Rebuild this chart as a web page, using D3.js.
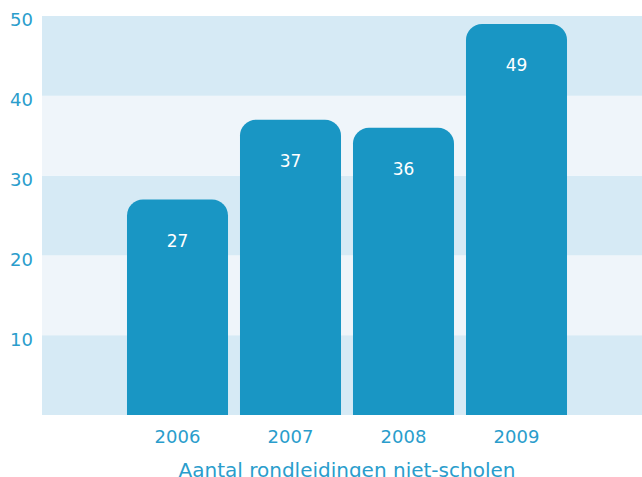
<!DOCTYPE html>
<html>
<head>
<meta charset="utf-8">
<script src="https://cdn.jsdelivr.net/npm/d3@7"></script>
<style>
  html, body { margin: 0; padding: 0; background: #ffffff; }
  svg { display: block; font-family: "DejaVu Sans", sans-serif; }
</style>
</head>
<body>
<div id="chart"></div>
<script>
// Aantal rondleidingen niet-scholen, 2006-2009
const years = ["2006", "2007", "2008", "2009"];
const tours = [27, 37, 36, 49];
const yTicks = [10, 20, 30, 40, 50];
const chartTitle = "Aantal rondleidingen niet-scholen";

const width = 642;
const height = 477;
const plot = {left: 42, right: 642, top: 16, bottom: 415};

const barColor = "#1996c4";
const textColor = "#2a9dcc";
const bandDark = "#d6eaf5";
const bandLight = "#eff5fa";

const svg = d3.select("#chart")
    .append("svg")
    .attr("width", width)
    .attr("height", height);

const yScale = d3.scaleLinear()
    .domain([0, 50])
    .range([plot.bottom, plot.top]);

const xScale = d3.scaleBand()
    .domain(years)
    .range([121, 573])
    .paddingInner(0.106)
    .paddingOuter(0.053);

// alternating background bands, one per 10 units
const bandStarts = d3.range(0, 50, 10);
svg.append("g")
    .selectAll("rect")
    .data(bandStarts)
    .enter()
    .append("rect")
    .attr("x", plot.left)
    .attr("width", plot.right - plot.left)
    .attr("y", d => yScale(d + 10))
    .attr("height", d => yScale(d) - yScale(d + 10))
    .attr("fill", (d, i) => i % 2 === 0 ? bandDark : bandLight);

// bar with rounded top corners only
function topRounded(x, y, w, h, r) {
    return `M${x},${y + h}` +
        `V${y + r}` +
        `A${r},${r} 0 0 1 ${x + r},${y}` +
        `H${x + w - r}` +
        `A${r},${r} 0 0 1 ${x + w},${y + r}` +
        `V${y + h}Z`;
}

const data = years.map((y, i) => ({year: y, value: tours[i]}));

svg.append("g")
    .selectAll("path")
    .data(data)
    .enter()
    .append("path")
    .attr("fill", barColor)
    .attr("d", d => topRounded(
        xScale(d.year),
        yScale(d.value),
        xScale.bandwidth(),
        yScale(0) - yScale(d.value),
        16));

// value labels inside bars
svg.append("g")
    .selectAll("text")
    .data(data)
    .enter()
    .append("text")
    .attr("x", d => xScale(d.year) + xScale.bandwidth() / 2)
    .attr("y", d => yScale(d.value) + 47)
    .attr("text-anchor", "middle")
    .attr("fill", "#ffffff")
    .style("font-size", "17px")
    .text(d => d.value);

// y axis
const yAxis = svg.append("g")
    .attr("transform", `translate(${plot.left},0)`)
    .call(d3.axisLeft(yScale).tickValues(yTicks).tickSize(0).tickPadding(9));
yAxis.select(".domain").remove();
yAxis.selectAll("text")
    .attr("fill", textColor)
    .attr("dy", "0.55em")
    .style("font-size", "18px")
    .style("font-family", "DejaVu Sans, sans-serif");

// x axis
const xAxis = svg.append("g")
    .attr("transform", `translate(0,${plot.bottom})`)
    .call(d3.axisBottom(xScale).tickSize(0));
xAxis.select(".domain").remove();
xAxis.selectAll("text")
    .attr("fill", textColor)
    .attr("y", 28)
    .attr("dy", "0")
    .style("font-size", "18px")
    .style("font-family", "DejaVu Sans, sans-serif");

// title below the axis (cut off at the bottom edge, as in the original)
svg.append("text")
    .attr("x", 347)
    .attr("y", 477)
    .attr("text-anchor", "middle")
    .attr("fill", textColor)
    .style("font-size", "20px")
    .text(chartTitle);
</script>
</body>
</html>
